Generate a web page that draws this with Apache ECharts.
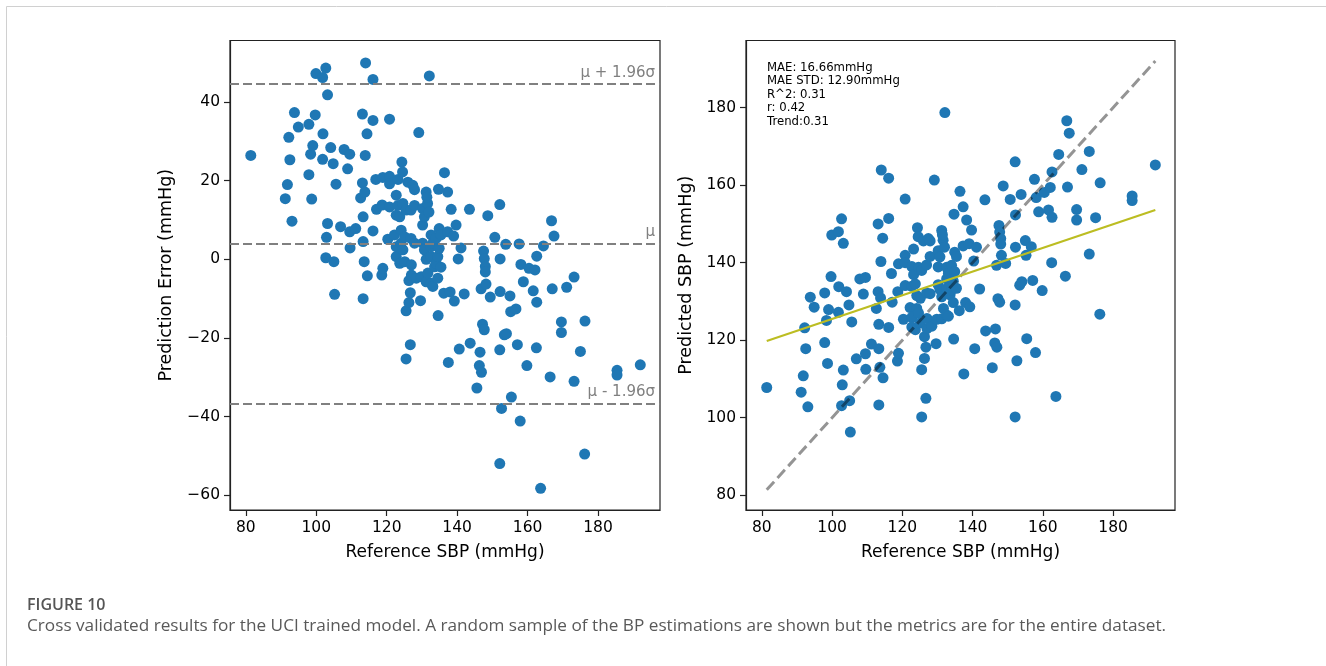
<!DOCTYPE html>
<html><head><meta charset="utf-8">
<script src="https://cdn.jsdelivr.net/npm/echarts@6/dist/echarts.min.js"></script>
<style>html,body{margin:0;padding:0;background:#fff;}#c{width:1326px;height:666px;}</style>
</head><body><div id="c"></div>
<script>
// Reference SBP (mmHg)
const refSBP = [
 81.4, 91.2, 91.8, 92.2, 92.5, 93.1, 93.8, 94.9, 97.9, 97.9,
 98.4, 98.7, 99.0, 99.7, 99.9, 101.8, 102.7, 101.9, 101.8, 103.2,
 103.2, 102.9, 102.7, 104.1, 104.8, 105.0, 105.2, 105.6, 106.9, 107.9,
 108.9, 109.5, 109.5, 109.6, 111.2, 112.6, 113.1, 113.1, 113.3, 113.3,
 113.3, 113.6, 113.8, 113.9, 114.0, 114.4, 114.5, 116.1, 116.1, 116.1,
 116.9, 117.1, 118.7, 118.9, 118.6, 118.9, 120.8, 120.8, 120.8, 120.8,
 120.3, 122.2, 122.7, 122.7, 122.7, 122.7, 123.2, 123.2, 123.7, 123.7,
 124.1, 124.1, 124.3, 124.5, 124.6, 124.6, 125.1, 125.1, 125.5, 125.5,
 125.5, 126.0, 126.3, 126.3, 126.7, 126.7, 126.9, 126.9, 127.0, 127.0,
 127.4, 127.9, 127.9, 127.9, 128.4, 129.1, 129.6, 129.8, 130.2, 130.2,
 130.2, 130.7, 130.7, 131.6, 131.2, 131.4, 131.2, 131.2, 131.7, 132.1,
 132.0, 132.6, 132.6, 132.6, 132.6, 133.1, 133.1, 133.6, 134.0, 134.0,
 134.7, 134.5, 134.5, 134.6, 134.9, 134.9, 135.4, 135.4, 136.4, 136.2,
 137.3, 137.3, 138.0, 137.5, 138.3, 139.0, 139.2, 139.7, 140.3, 140.6,
 141.1, 142.0, 143.5, 143.7, 145.6, 146.3, 146.5, 146.8, 146.9, 147.2,
 147.5, 147.7, 147.7, 148.0, 148.0, 148.2, 148.7, 149.4, 150.7, 152.1,
 152.1, 152.1, 152.2, 152.2, 152.6, 153.4, 154.0, 153.8, 155.0, 155.2,
 156.7, 155.4, 157.1, 157.6, 157.9, 158.1, 158.8, 159.8, 160.4, 161.6,
 162.1, 162.5, 162.6, 162.6, 163.7, 164.5, 166.4, 166.8, 167.5, 167.0,
 169.6, 169.6, 171.1, 173.2, 173.2, 175.0, 176.2, 176.3, 185.4, 185.4,
 192.0
];
// Prediction error (mmHg), left panel
const errorSBP = [
 26.4, 15.4, 19.0, 31.0, 25.3, 9.7, 37.3, 33.6, 34.3, 21.5,
 26.7, 15.3, 28.9, 36.7, 47.2, 46.2, 48.6, 31.9, 25.4, 41.8,
 9.1, 5.6, 0.4, 28.4, 24.3, -0.6, -8.9, 19.1, 8.3, 27.9,
 23.0, 26.7, 7.0, 2.9, 7.8, 15.6, 36.9, 19.4, 10.8, 4.5,
 -10.0, -0.6, 17.1, 26.4, 49.9, 31.9, -4.2, 45.7, 35.3, 7.2,
 20.3, 12.7, 13.8, 20.8, -4.0, -2.3, 35.6, 21.1, 19.2, 13.3,
 5.1, 6.2, 16.3, 11.2, 3.2, 0.7, 20.3, 13.7, 10.8, -1.0,
 7.4, 4.1, 24.7, 22.2, 14.2, 2.4, 5.7, -0.6, 12.5, -13.1,
 -25.3, 19.6, -5.4, -11.0, -8.5, -21.7, 12.5, 5.3, -1.4, -4.0,
 18.8, 17.7, 13.7, 4.1, -4.8, 32.2, -10.5, -4.4, 12.9, 8.7,
 4.1, 10.8, 2.4, 14.2, 17.1, 15.8, 0.0, -5.7, -3.5, 46.6,
 12.0, 6.2, 3.2, 0.7, -6.1, 4.1, -6.9, -1.9, -1.0, 5.3,
 17.8, 0.7, -4.8, -14.3, 7.8, 2.8, 6.2, -2.0, 22.0, -8.6,
 17.1, 7.0, -8.3, -26.2, 12.7, 5.9, -10.6, 8.7, 0.1, -22.8,
 2.9, -8.8, 12.7, -21.3, -32.7, -27.0, -23.6, -7.5, -28.7, -16.5,
 2.1, -17.9, 0.2, -1.8, -3.2, -6.3, 11.1, -9.6, 5.6, 13.9,
 -23.0, -51.9, 0.1, -8.2, -37.9, -19.2, -18.9, 3.8, -9.3, -13.3,
 -12.6, -35.0, -21.7, 3.9, -41.1, -1.3, -5.7, -27.0, -2.3, -8.0,
 -2.7, -22.5, 0.8, -10.9, -58.2, 3.4, -29.9, 9.8, 5.9, -7.5,
 -15.9, -18.6, -7.1, -4.5, -31.0, -23.4, -49.5, -15.7, -28.2, -29.4,
 -26.8
];
// Predicted SBP (mmHg), right panel
const predSBP = [
 107.8, 106.6, 110.8, 123.2, 117.8, 102.8, 131.1, 128.5, 132.2, 119.4,
 125.1, 114.0, 127.9, 136.4, 147.1, 148.0, 151.3, 133.8, 127.2, 145.0,
 112.3, 108.5, 103.1, 132.5, 129.1, 104.4, 96.3, 124.7, 115.2, 135.8,
 131.9, 136.2, 116.5, 112.5, 119.0, 128.2, 150.0, 132.5, 124.1, 117.8,
 103.3, 113.0, 130.9, 140.3, 163.9, 146.3, 110.3, 161.8, 151.4, 123.3,
 137.2, 129.8, 132.5, 139.7, 114.6, 116.6, 156.4, 141.9, 140.0, 134.1,
 125.4, 128.4, 139.0, 133.9, 125.9, 123.4, 143.5, 136.9, 134.5, 122.7,
 131.5, 128.2, 149.0, 146.7, 138.8, 127.0, 130.8, 124.5, 138.0, 112.4,
 100.2, 145.6, 120.9, 115.3, 118.2, 105.0, 139.4, 132.2, 125.6, 123.0,
 146.2, 145.6, 141.6, 132.0, 123.6, 161.3, 119.1, 125.4, 143.1, 138.9,
 134.3, 141.5, 133.1, 145.8, 148.3, 147.2, 131.2, 125.5, 128.2, 178.7,
 144.0, 138.8, 135.8, 133.3, 126.5, 137.2, 126.2, 131.7, 133.0, 139.3,
 152.5, 135.2, 129.7, 120.3, 142.7, 137.7, 141.6, 133.4, 158.4, 127.6,
 154.4, 144.3, 129.7, 111.3, 151.0, 144.9, 128.6, 148.4, 140.4, 117.8,
 144.0, 133.2, 156.2, 122.4, 112.9, 119.3, 122.9, 139.3, 118.2, 130.7,
 149.6, 129.8, 147.9, 146.2, 144.8, 141.9, 159.8, 139.8, 156.3, 166.0,
 129.1, 100.2, 152.3, 144.0, 114.7, 134.2, 135.1, 157.6, 145.7, 141.9,
 144.1, 120.4, 135.4, 161.5, 116.8, 156.8, 153.1, 132.8, 158.1, 153.6,
 159.4, 140.0, 163.4, 151.7, 105.5, 167.9, 136.5, 176.6, 173.4, 159.5,
 153.7, 151.0, 164.0, 168.7, 142.2, 151.6, 126.7, 160.6, 157.2, 156.0,
 165.2
];
const xTicks = [80, 100, 120, 140, 160, 180];
const errTicks = [-60, -40, -20, 0, 20, 40];
const predTicks = [80, 100, 120, 140, 160, 180];
const xRange = [75.5, 197.6];
const errRange = [-63.7, 55.6];
const predRange = [76.2, 197.3];
const meanErr = 3.9;
const upperLoA = 44.5;
const lowerLoA = -36.7;
const trendPts = [[81.4, 119.8], [192.0, 153.6]];
const statsLines = ['MAE: 16.66mmHg', 'MAE STD: 12.90mmHg', 'R^2: 0.31', 'r: 0.42', 'Trend:0.31'];
const figLabel = 'FIGURE 10';
const captionText = 'Cross validated results for the UCI trained model. A random sample of the BP estimations are shown but the metrics are for the entire dataset.';

const F = 'DejaVu Sans';
const BLUE = '#1f77b4';
const fmt = v => (v < 0 ? '\u2212' + Math.abs(v) : String(v));

function mkAxis(gridIndex, ticks, range, name, nameGap, nameSize) {
  return {
    type: 'value', gridIndex, min: range[0], max: range[1],
    name, nameLocation: 'middle', nameGap,
    nameTextStyle: { fontFamily: F, fontSize: nameSize, color: '#000' },
    axisLine: { show: true, onZero: false, lineStyle: { color: '#222', width: 1.2 } },
    axisTick: { show: true, customValues: ticks, length: 6, lineStyle: { color: '#222', width: 1.2 } },
    axisLabel: { customValues: ticks, formatter: fmt, fontFamily: F, fontSize: 15.5, color: '#000', margin: 10 },
    splitLine: { show: false }
  };
}

const leftData = refSBP.map((r, i) => [r, errorSBP[i]]);
const rightData = refSBP.map((r, i) => [r, predSBP[i]]);
const rMin = Math.min(...refSBP), rMax = Math.max(...refSBP);

const chart = echarts.init(document.getElementById('c'), null, { renderer: 'canvas' });
chart.setOption({
  animation: false,
  backgroundColor: '#fff',
  grid: [
    { left: 230, top: 40.5, width: 430, height: 469.5, show: true, borderColor: '#222', borderWidth: 1.2, backgroundColor: 'transparent' },
    { left: 746, top: 40.5, width: 429, height: 469.5, show: true, borderColor: '#222', borderWidth: 1.2, backgroundColor: 'transparent' }
  ],
  xAxis: [
    mkAxis(0, xTicks, xRange, 'Reference SBP (mmHg)', 34, 17),
    mkAxis(1, xTicks, xRange, 'Reference SBP (mmHg)', 34, 17)
  ],
  yAxis: [
    mkAxis(0, errTicks, errRange, 'Prediction Error (mmHg)', 55, 17.5),
    mkAxis(1, predTicks, predRange, 'Predicted SBP (mmHg)', 51, 17.5)
  ],
  series: [
    { type: 'scatter', xAxisIndex: 0, yAxisIndex: 0, data: leftData, symbolSize: 11,
      itemStyle: { color: BLUE, opacity: 1 }, z: 2, silent: true },
    { type: 'line', xAxisIndex: 0, yAxisIndex: 0, data: [], z: 5, silent: true,
      markLine: {
        silent: true, symbol: ['none', 'none'], animation: false,
        lineStyle: { color: '#808080', type: [9, 4], width: 2.2 },
        label: { show: true, position: 'insideEndTop', color: '#808080', fontFamily: F, fontSize: 15, distance: [5, 4] },
        data: [
          { yAxis: upperLoA, label: { formatter: '\u03bc + 1.96\u03c3' } },
          { yAxis: meanErr, label: { formatter: '\u03bc' } },
          { yAxis: lowerLoA, label: { formatter: '\u03bc - 1.96\u03c3' } }
        ]
      } },
    { type: 'scatter', xAxisIndex: 1, yAxisIndex: 1, data: rightData, symbolSize: 11,
      itemStyle: { color: BLUE, opacity: 1 }, z: 2, silent: true },
    { type: 'line', xAxisIndex: 1, yAxisIndex: 1, data: [[rMin, rMin], [rMax, rMax]], symbol: 'none', z: 4, silent: true,
      lineStyle: { color: 'rgba(0,0,0,0.42)', type: [11, 5], width: 3 } },
    { type: 'line', xAxisIndex: 1, yAxisIndex: 1, data: trendPts, symbol: 'none', z: 5, silent: true,
      lineStyle: { color: '#bcbd22', width: 2.2 } }
  ],
  graphic: [
    { type: 'rect', left: 4, top: 4, shape: { width: 1340, height: 700 }, style: { fill: 'none', stroke: '#d0d0d0', lineWidth: 1 }, silent: true, z: -1 },
    { type: 'text', left: 767, top: 61, style: { text: statsLines.join('\n'), font: '11.7px "DejaVu Sans"', lineHeight: 13.5, fill: '#000' } },
    { type: 'text', left: 27, top: 597, style: { text: figLabel, font: '600 16px "Open Sans", sans-serif', fill: '#555' } },
    { type: 'text', left: 27, top: 618, style: { text: captionText, font: '17.2px "Open Sans", sans-serif', fill: '#595959' } }
  ]
});
</script>
</body></html>
